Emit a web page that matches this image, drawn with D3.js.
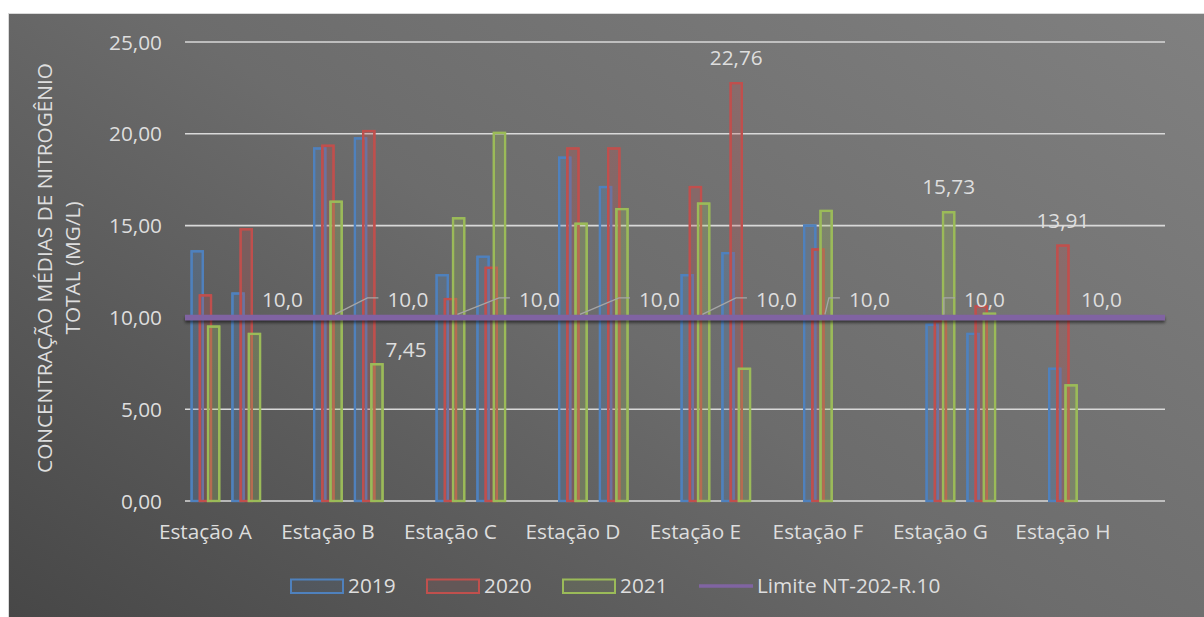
<!DOCTYPE html>
<html>
<head>
<meta charset="utf-8">
<script src="https://cdn.jsdelivr.net/npm/d3@7"></script>
<style>
  html, body { margin: 0; padding: 0; background: #ffffff; }
  svg { display: block; }
  text { font-family: "Open Sans", "Noto Sans", sans-serif; }
</style>
</head>
<body>
<svg id="chart" width="1204" height="617"></svg>
<script>
// ---------------- data ----------------
const stations = ["Estação A", "Estação B", "Estação C", "Estação D",
                  "Estação E", "Estação F", "Estação G", "Estação H"];
const slotsPerStation = 3;
const categories = d3.range(stations.length * slotsPerStation);

const seriesNames = ["2019", "2020", "2021"];
const values2019 = [13.6, 11.3, null, 19.2, 19.75, null, 12.3, 13.3, null, 18.7, 17.1, null,
                    12.3, 13.5, null, 15.0, null, null, 9.6, 9.1, null, 7.2, null, null];
const values2020 = [11.2, 14.8, null, 19.35, 20.15, null, 11.0, 12.7, null, 19.2, 19.2, null,
                    17.1, 22.76, null, 13.7, null, null, 9.8, 10.6, null, 13.91, null, null];
const values2021 = [9.5, 9.1, null, 16.3, 7.45, null, 15.4, 20.05, null, 15.1, 15.9, null,
                    16.2, 7.2, null, 15.8, null, null, 15.73, 10.2, null, 6.3, null, null];
const limitName = "Limite NT-202-R.10";
const limitValues = categories.map(() => 10.0);
const limitLabelCats = [0, 3, 6, 9, 12, 15, 18, 21];

const yTicks = [0, 5, 10, 15, 20, 25];
const yTitle = ["CONCENTRAÇÃO MÉDIAS DE NITROGÊNIO", "TOTAL (MG/L)"];

// bar data labels (series index, category index, placement)
const barLabels = [
  { s: 1, c: 13, place: "top" },
  { s: 2, c: 4, place: "right" },
  { s: 2, c: 18, place: "top" },
  { s: 1, c: 21, place: "top" }
];

// ---------------- style / layout ----------------
const colors = ["#4f81bd", "#c0504d", "#9bbb59"];
const limitColor = "#8064a2";
const textColor = "#dedede";
const fontSize = 20.8;
const limitLabelDx = [56.5, 59.5, 68.5, 66, 60.5, 31, 23.5, 18];

const plot = { left: 185, right: 1165, top: 42, bottom: 501 };

const ptLocale = d3.formatLocale({ decimal: ",", thousands: ".", grouping: [3], currency: ["R$", ""] });
const fmt2 = ptLocale.format(".2f");
const fmt1 = ptLocale.format(".1f");

const svg = d3.select("#chart");
const defs = svg.append("defs");

const grad = defs.append("linearGradient")
  .attr("id", "bg").attr("gradientUnits", "userSpaceOnUse")
  .attr("x1", 8).attr("y1", 617).attr("x2", 668).attr("y2", -351);
grad.append("stop").attr("offset", 0).attr("stop-color", "#474747");
grad.append("stop").attr("offset", 0.5).attr("stop-color", "#6c6c6c");
grad.append("stop").attr("offset", 1).attr("stop-color", "#808080");

const soft = defs.append("filter").attr("id", "soft")
  .attr("filterUnits", "userSpaceOnUse")
  .attr("x", 0).attr("y", 0).attr("width", 1204).attr("height", 617);
soft.append("feGaussianBlur").attr("in", "SourceGraphic").attr("stdDeviation", 0.7).attr("result", "b");
const sm = soft.append("feMerge");
sm.append("feMergeNode").attr("in", "b");
sm.append("feMergeNode").attr("in", "SourceGraphic");

const shadow = defs.append("filter").attr("id", "shadow")
  .attr("filterUnits", "userSpaceOnUse")
  .attr("x", 0).attr("y", 0).attr("width", 1204).attr("height", 617);
shadow.append("feDropShadow").attr("dx", 0).attr("dy", 2.5).attr("stdDeviation", 1.5)
  .attr("flood-color", "#000").attr("flood-opacity", 0.55);

// background
svg.append("rect").attr("x", 8.5).attr("y", 13.5).attr("width", 1204).attr("height", 617)
  .attr("fill", "url(#bg)").attr("stroke", "#d9d9d9").attr("stroke-width", 1);

// scales
const x = d3.scaleBand().domain(categories).range([plot.left, plot.right]).paddingInner(0).paddingOuter(0);
const y = d3.scaleLinear().domain([0, 25]).range([plot.bottom, plot.top]);
const xLine = d3.scalePoint().domain(categories).range([plot.left, plot.right]);

const barStep = 8.2, barW = 11.2;

// gridlines
svg.append("g").selectAll("line").data(yTicks).join("line")
  .attr("x1", plot.left).attr("x2", plot.right)
  .attr("y1", d => y(d)).attr("y2", d => y(d))
  .attr("stroke", "#d9d9d9").attr("stroke-width", 1.6);

// y axis labels
const yAxis = svg.append("g").attr("transform", `translate(${plot.left},0)`)
  .call(d3.axisLeft(y).tickValues(yTicks).tickSize(0).tickPadding(23).tickFormat(fmt2));
yAxis.select(".domain").remove();
yAxis.selectAll("text").attr("fill", textColor).style("font-size", fontSize + "px")
  .style("font-family", "'Open Sans', sans-serif").attr("dy", "0.34em");

// x axis labels
const xAxis = svg.append("g").attr("transform", `translate(0,${plot.bottom})`)
  .call(d3.axisBottom(x).tickValues(limitLabelCats).tickSize(0)
    .tickFormat(d => stations[Math.floor(d / slotsPerStation)]));
xAxis.select(".domain").remove();
xAxis.selectAll("text").attr("fill", textColor).style("font-size", fontSize + "px")
  .style("font-family", "'Open Sans', sans-serif").attr("y", 38).attr("dy", 0);

// y title
const yt = svg.append("g").attr("fill", textColor).style("font-size", fontSize + "px");
yt.append("text").attr("transform", "translate(52,268) rotate(-90)").attr("text-anchor", "middle").text(yTitle[0]);
yt.append("text").attr("transform", "translate(80,268) rotate(-90)").attr("text-anchor", "middle").text(yTitle[1]);

// bars
const allSeries = [values2019, values2020, values2021];
const barX = (s, c) => x(c) + x.bandwidth() / 2 + (s - 1) * barStep - barW / 2;
allSeries.forEach((vals, s) => {
  svg.append("g").attr("filter", "url(#soft)")
    .selectAll("rect")
    .data(categories.filter(c => vals[c] != null))
    .join("rect")
    .attr("x", c => barX(s, c))
    .attr("y", c => y(vals[c]))
    .attr("width", barW)
    .attr("height", c => y(0) - y(vals[c]))
    .attr("fill", colors[s]).attr("fill-opacity", 0.14)
    .attr("stroke", colors[s]).attr("stroke-width", 2.2);
});

// limit line
const line = d3.line().x(c => xLine(c)).y(c => y(limitValues[c]));
svg.append("path").datum(categories).attr("d", line)
  .attr("fill", "none").attr("stroke", limitColor).attr("stroke-width", 5.5)
  .attr("filter", "url(#shadow)");

// limit labels + leader lines
const labelG = svg.append("g").attr("fill", textColor).style("font-size", fontSize + "px");
limitLabelCats.forEach((c, i) => {
  const cx = x(c) + x.bandwidth() / 2;
  const lx = cx + limitLabelDx[i];
  const ly = y(limitValues[c]) - 10.5;
  labelG.append("text").attr("x", lx).attr("y", ly).text(fmt1(limitValues[c]));
  if (i >= 1 && i <= 6) {
    const ex = lx - 20, ey = y(limitValues[c]) - 19.5;
    const sx = Math.min(cx + 7, ex);
    svg.append("polyline")
      .attr("points", `${sx},${y(limitValues[c]) - 3} ${ex},${ey} ${lx - 9},${ey}`)
      .attr("fill", "none").attr("stroke", "#a6a6a6").attr("stroke-width", 1.3);
  }
});

// bar labels
barLabels.forEach(b => {
  const v = allSeries[b.s][b.c];
  const bx = barX(b.s, b.c);
  if (b.place === "top") {
    labelG.append("text").attr("x", bx + barW / 2).attr("y", y(v) - 18)
      .attr("text-anchor", "middle").text(fmt2(v));
  } else {
    labelG.append("text").attr("x", bx + barW + 3).attr("y", y(v) - 7)
      .text(fmt2(v));
  }
});

// legend
const legend = svg.append("g").style("font-size", fontSize + "px").attr("fill", textColor);
const legendX = [291, 427, 563];
seriesNames.forEach((n, s) => {
  legend.append("rect").attr("x", legendX[s]).attr("y", 579.5).attr("width", 52).attr("height", 13.5)
    .attr("fill", colors[s]).attr("fill-opacity", 0.1)
    .attr("stroke", colors[s]).attr("stroke-width", 2);
  legend.append("text").attr("x", legendX[s] + 57).attr("y", 593).text(n);
});
legend.append("line").attr("x1", 699).attr("x2", 753).attr("y1", 586).attr("y2", 586)
  .attr("stroke", limitColor).attr("stroke-width", 3.5);
legend.append("text").attr("x", 757).attr("y", 593).text(limitName);
</script>
</body>
</html>
